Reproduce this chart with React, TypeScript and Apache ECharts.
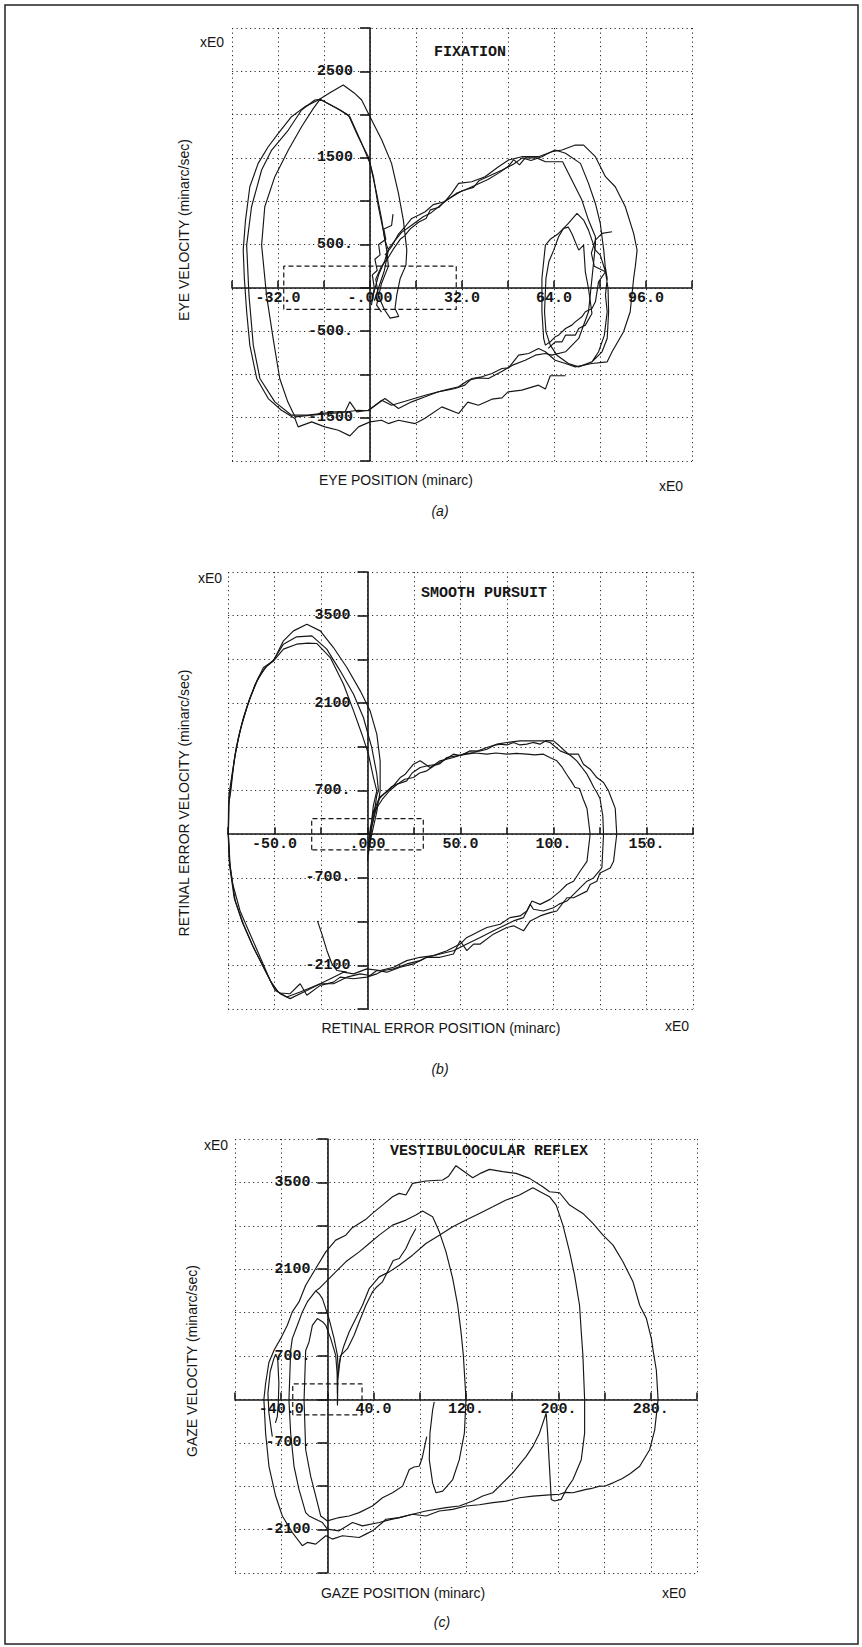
import React, { useEffect, useRef } from "react";
import * as echarts from "echarts";

// ---------------- axis ranges & tick labels ----------------
const fixXRange = [-48, 112, 16];
const fixYRange = [-2000, 3000, 500];
const fixXTicks = [-32, 0, 32, 64, 96];
const fixXTexts = ["-32.0", "-.000", "32.0", "64.0", "96.0"];
const fixYTicks = [2500, 1500, 500, -500, -1500];
const fixYTexts = ["2500", "1500", "500.", "-500.", "-1500"];

const purXRange = [-75, 175, 25];
const purYRange = [-2800, 4200, 700];
const purXTicks = [-50, 0, 50, 100, 150];
const purXTexts = ["-50.0", ".000", "50.0", "100.", "150."];
const purYTicks = [3500, 2100, 700, -700, -2100];
const purYTexts = ["3500", "2100", "700.", "-700.", "-2100"];

const vorXRange = [-80, 320, 40];
const vorYRange = [-2800, 4200, 700];
const vorXTicks = [-40, 40, 120, 200, 280];
const vorXTexts = ["-40.0", "40.0", "120.", "200.", "280."];
const vorYTicks = [3500, 2100, 700, -700, -2100];
const vorYTexts = ["3500", "2100", "700.", "-700.", "-2100"];

// dashed fixation window (position, velocity)
const boxX = [-30, 30];
const boxY = [-250, 250];

// ---------------- (a) FIXATION traces ----------------
const fixTraceA = [
  [5.2,377],[7.5,474],[9.9,620],[12.2,705],[14.5,801],[17,840],[19.2,878],[22,960],[26,994],[28.4,1090],[30.8,1206],[35.4,1225],[40,1283],[44.7,1398],[48.2,1475],[52.8,1514],[58.6,1514],[63.3,1572],[66.8,1591],[71.4,1648],[74.3,1648],[78.4,1514],[81.9,1283],[85.3,1167],[88.8,936],[91.7,628],[92.9,435],[92.3,250],[91.7,108],[90.5,-277],[88.2,-508],[84.2,-739],[82.5,-855],[77.2,-874],[71.4,-913],[68,-874],[64.4,-836],[61,-739],[58.6,-701],[55.2,-759],[51.7,-778],[48.2,-924],[45.9,-932],[42.4,-990],[38.9,-1028],[35.4,-1047],[33,-1124],[29.6,-1163],[26.7,-1182],[23.8,-1201],[19.2,-1259],[14.5,-1317],[9.9,-1394],[5.2,-1279],[-0.6,-1414],[-4.6,-1433],[-7,-1317],[-8.7,-1433],[-12.2,-1433],[-21.5,-1471],[-27.3,-1471],[-33.1,-1317],[-38.3,-1047],[-40.6,-662],[-42.1,-85],[-42.9,493],[-41.2,936],[-37.7,1360],[-34.2,1591],[-28.4,1822],[-23.8,2053],[-19.2,2169],[-17.4,2176],[-12.2,2084],[-7.5,1995],[-4.1,1745],[-0.6,1514],[1.2,1283],[2.9,936],[4.6,666],[5.8,435],[6.4,250],[4,50],[2.3,-200],[4,-280]
];
const fixTraceB = [
  [1,-100],[3,150],[5,300],[6.4,450],[9,560],[11,640],[13.5,700],[16,760],[18.5,820],[21,860],[24,940],[27,1020],[30,1090],[33,1130],[37,1190],[41,1250],[45,1330],[48,1400],[50,1480],[52,1420],[54,1500],[58,1500],[61,1456],[63.9,1456],[67,1456],[70.2,1244],[73.7,1013],[76,782],[78.4,589],[78.4,493],[77.2,108],[76,-277],[72.6,-585],[68,-739],[63.3,-778],[61,-758],[57.5,-778],[54,-836],[49.6,-893],[46,-963],[41.2,-1047],[37.7,-1040],[34.2,-1067],[30.8,-1143],[26.1,-1182],[19.2,-1240],[12.2,-1310],[7.5,-1356],[4.1,-1298],[-0.6,-1420],[-4.1,-1414],[-10,-1440],[-16,-1460],[-20.3,-1470],[-26.1,-1490],[-28.6,-1317],[-31.4,-1047],[-33.7,-585],[-36,-85],[-37.7,493],[-36.6,936],[-33.1,1283],[-28.4,1591],[-23.8,1860],[-19.7,2072],[-17.4,2176],[-10.4,2053],[-7,1976],[-2.9,1668],[0,1437],[2.3,1090],[4.1,782],[5.2,551],[6.4,435],[5,200],[3,0],[1.5,-150]
];
const fixTraceC = [
  [68,-1016],[62.7,-1016],[61,-1170],[58.6,-1124],[52.8,-1182],[48,-1201],[45.9,-1271],[42.4,-1286],[37.7,-1356],[34,-1320],[30.8,-1452],[25,-1375],[19,-1510],[15.7,-1568],[9.9,-1529],[6.4,-1568],[4,-1529],[0,-1548],[-4,-1606],[-7,-1710],[-11,-1645],[-15.7,-1606],[-20.3,-1548],[-25,-1606],[-26.1,-1510],[-30.8,-1414],[-35.4,-1279],[-39.4,-1047],[-41.8,-662],[-42.9,-277],[-43.7,108],[-44.1,435],[-43.3,782],[-41.8,1167],[-38.9,1437],[-35.4,1629],[-31.9,1783],[-27.3,1976],[-22.6,2092],[-18,2169],[-13.5,2260],[-9.3,2342],[-5.5,2250],[-2.9,2169],[0,1976],[4.1,1706],[7.5,1437],[9.9,1090],[11.6,782],[12.8,435],[12.5,262],[10.5,108],[9.3,-85],[8.7,-239],[10,-330],[7,-350],[5,-250],[3,-100],[2,100],[4,250],[6,330],[8,440],[10.5,560],[12,600],[14,680],[17,760],[19.5,800],[21,900],[24,930],[26,1000],[29,1060],[32,1120],[36,1160],[38,1240],[42,1300],[46,1360],[50,1430],[53,1500],[56,1470],[59.8,1514],[62,1553],[64.4,1591],[68,1553],[73.2,1437],[76,1206],[78.4,974],[80.1,743],[81.3,435],[81.8,250],[82.5,108],[81.9,-85],[82.5,-277],[81.5,-550],[79.5,-739],[77.2,-855],[72.6,-913],[69,-874],[65,-778],[62.7,-662],[61.2,-508],[60.7,-277],[61.2,108],[62.2,300],[63.9,435],[65.6,589],[67.3,686],[69,743],[72,859],[74.3,782],[76,666],[78.4,435],[80.1,377],[81.9,185],[82.8,-8],[83,-277],[82.5,-585],[80.7,-739],[77.2,-855],[72.6,-913],[69,-874],[65.5,-790]
];
const fixLoopSmall = [
  [84.2,647],[80.7,628],[78.4,551],[77,400],[78,250],[81.9,185],[79.5,69],[78.4,-162],[77.2,-239],[74.9,-277],[73.7,-335],[71.4,-393],[70.2,-431],[68,-470],[65.6,-547],[64.4,-566],[62.7,-624],[61,-662],[60.4,-585],[59.8,-277],[59.8,108],[61,493],[62.7,560],[65.6,628],[67.3,686],[69,700],[70.2,628],[72.6,435],[74.3,493],[74.9,185],[76,-8],[77.2,-297],[74.9,-431],[72.6,-470],[71.4,-547],[68,-547],[66.8,-624],[64.4,-624],[62,-700]
];
const fixJitter = [
  [0.5,-200],[1.5,0],[0.8,150],[2.5,200],[1.7,330],[3.5,380],[3,500],[5.5,560],[4.8,680],[7.5,720],[8,850]
];

// ---------------- (b) SMOOTH PURSUIT traces ----------------
const purOuter = [
  [0.5,-200],[2,100],[4,350],[6.8,600],[10.4,680],[14,780],[17.6,908],[20.3,961],[24.7,1121],[28.3,1175],[33.7,1068],[39,1175],[46.2,1228],[51.6,1282],[57,1308],[64.2,1388],[69.5,1442],[74.9,1469],[82,1495],[89.2,1495],[94.6,1495],[98.2,1469],[103.6,1335],[108,1282],[113.4,1282],[116.1,1121],[119.7,1041],[123.3,908],[126.9,828],[129.6,694],[130.5,625],[133.2,413],[134,0],[132.3,-435],[130.5,-541],[125,-620],[123.3,-753],[119.7,-806],[118,-912],[110.8,-1018],[107.2,-1018],[101.8,-1230],[98.2,-1256],[92.8,-1309],[87.5,-1389],[83.9,-1548],[78.5,-1468],[74.9,-1495],[67.7,-1601],[60.6,-1760],[57,-1760],[53.4,-1866],[49.8,-1707],[46.2,-1919],[39,-1972],[31.9,-1972],[28.3,-2025],[21.1,-2078],[14,-2157],[8.6,-2184],[5,-2237],[-0.4,-2290],[-7.5,-2316],[-14.7,-2290],[-18.3,-2369],[-25.4,-2422],[-32.6,-2581],[-36.2,-2396],[-41.6,-2555],[-47,-2543],[-49.6,-2502],[-55,-2184],[-61.3,-1813],[-66.7,-1442],[-71.1,-1071],[-73.8,-541],[-74.8,0],[-74.5,500],[-73.5,694],[-71.7,1175],[-69.4,1549],[-66.7,1869],[-63.1,2189],[-59.5,2456],[-55.9,2670],[-50.5,2777],[-45.2,3097],[-39.8,3257],[-32.6,3364],[-25.4,3257],[-18.3,2990],[-11.1,2670],[-3.9,2296],[1.4,1976],[5,1602],[6.8,1175],[6.8,694],[5,360],[2.3,0],[0.5,-276]
];
const purMiddle = [
  [1.1,-150],[2.5,150],[4.5,400],[8,560],[12,700],[16,800],[21.1,854],[24,980],[28.3,1068],[33,1100],[37.3,1121],[42,1200],[46.2,1282],[50,1260],[55.2,1335],[60,1330],[64.2,1361],[68,1420],[71.3,1442],[75,1430],[78.5,1469],[82,1430],[85.7,1442],[89,1470],[92.8,1442],[96,1500],[100,1495],[103,1420],[107,1308],[110,1240],[112.5,1175],[115,1080],[118,961],[120,850],[121.7,748],[123.5,660],[125,572],[126.5,300],[126.9,0],[126,-541],[121.5,-700],[118,-753],[114.3,-859],[110.8,-965],[107.2,-1071],[103,-1120],[100,-1177],[94.6,-1230],[89.2,-1203],[87.5,-1124],[83.9,-1336],[78.5,-1389],[74.9,-1442],[67.7,-1548],[60.6,-1654],[53.4,-1760],[46.2,-1866],[39,-1919],[31.9,-1972],[24.7,-2078],[17.6,-2131],[10.4,-2210],[5,-2184],[1.4,-2263],[-3.9,-2237],[-11.1,-2290],[-18.3,-2396],[-25.4,-2396],[-32.6,-2502],[-41.6,-2634],[-47,-2555],[-50.5,-2449],[-55.9,-2131],[-62.2,-1760],[-67.6,-1389],[-71.7,-1018],[-74.2,-488],[-74.8,0],[-74.5,625],[-72.8,961],[-70.6,1388],[-67.6,1762],[-63.4,2163],[-58.6,2510],[-54.1,2697],[-50.5,2790],[-45.2,3044],[-38.1,3161],[-29.9,3177],[-21.9,2964],[-14.7,2617],[-7.5,2243],[-2.2,1869],[2.3,1388],[5,961],[5.9,694],[5,625],[3.2,254],[1.1,0],[0,-435]
];
const purInner = [
  [0.5,-223],[1.5,100],[3.5,380],[6,560],[9,650],[13,760],[17,820],[20,880],[24.7,908],[28,980],[31.9,1015],[36,1100],[39,1130],[42.6,1228],[47,1250],[53.4,1282],[58,1300],[64.2,1282],[69,1300],[74.9,1282],[80,1295],[85.7,1282],[90,1270],[94.6,1282],[98,1230],[101.8,1175],[104.5,1080],[107,961],[109.5,850],[111.6,748],[114,731],[116,560],[118,413],[119.7,0],[118,-435],[114.3,-594],[110.8,-753],[107.2,-806],[103.6,-912],[98.2,-1044],[92.8,-1124],[88.4,-1071],[85.7,-1230],[82,-1309],[76.6,-1336],[71.3,-1442],[64.2,-1495],[60.6,-1548],[57,-1601],[53.4,-1654],[49.8,-1760],[42.7,-1866],[35.5,-1945],[28.3,-1972],[21.1,-2025],[14,-2131],[6.8,-2184],[-0.4,-2157],[-7.5,-2237],[-12.9,-2210],[-18.3,-2290],[-25.4,-2396],[-36.2,-2528],[-43.4,-2608],[-47.9,-2528],[-52.3,-2343],[-57.7,-1972],[-63.1,-1601],[-68.5,-1230],[-72.4,-806],[-74.4,-382],[-74.9,0],[-74.7,466],[-72.9,908],[-71.1,1282],[-68.5,1655],[-64.9,2029],[-60.4,2403],[-55,2670],[-50.5,2777],[-45.2,2964],[-38.1,3044],[-32,3060],[-27.2,3054],[-20,2830],[-12.9,2403],[-7.5,1976],[-3,1602],[0.5,1282],[3.2,908],[5,694],[3.2,466],[1.4,0],[0.5,-330]
];
const purStray = [
  [-26.9,-1389],[-24.5,-1601],[-21.8,-1866],[-19.1,-2078],[-16.4,-2184],[-11.1,-2210]
];

// ---------------- (c) VESTIBULOOCULAR REFLEX traces ----------------
const vorOuter = [
  [-21.7,-2360],[-30.4,-2147],[-39,-1880],[-44.8,-1559],[-50.6,-1079],[-53.5,-545],[-55,0],[-53.5,256],[-50.6,600],[-46,800],[-40.5,980],[-34.7,1195],[-30.4,1411],[-24.6,1572],[-18.8,1842],[-10.1,2111],[-1.4,2380],[7.2,2569],[15.9,2649],[21,2760],[27.5,2838],[33,2900],[39,3000],[47.7,3134],[56.4,3269],[62.2,3323],[68,3296],[73.7,3484],[85.3,3522],[99.8,3538],[105,3600],[111.3,3770],[118,3680],[125.8,3576],[133,3650],[140.3,3710],[151.8,3673],[163.4,3646],[175,3565],[186.5,3430],[192.3,3349],[201,3333],[209.7,3134],[221.2,3000],[229.9,2838],[238.6,2649],[247.3,2488],[255.9,2219],[264.6,1896],[270.4,1519],[276.2,1303],[280.5,980],[282,790],[284.8,470],[286.3,0],[283.4,-491],[279,-812],[270.4,-1079],[262,-1200],[255,-1280],[247.3,-1346],[240,-1400],[235.7,-1399],[228,-1440],[224.1,-1452],[218,-1480],[212.6,-1506],[206,-1500],[201,-1530],[189.4,-1545],[177.9,-1559],[166.3,-1586],[154.7,-1640],[143.2,-1666],[131.6,-1700],[120,-1719],[108.5,-1773],[96.9,-1800],[85.3,-1880],[73.7,-1853],[62.2,-1906],[50.6,-1933],[47.7,-1986],[39,-2120],[33.3,-2173],[27.5,-2227],[13,-2200],[4.3,-2253],[-1.4,-2200],[-10.1,-2334],[-17.4,-2307],[-21.7,-2360]
];
const vorMain = [
  [8.7,-100],[9,300],[11,650],[14,850],[18.8,1088],[24.6,1303],[30.4,1519],[36.2,1788],[44.8,1976],[53.5,2057],[62.2,2165],[73.7,2326],[85.3,2515],[96.9,2649],[108.5,2784],[120,2892],[131.6,3000],[143.2,3107],[154.7,3215],[166.3,3296],[177.9,3414],[185,3340],[192.3,3269],[198.1,3134],[203.9,2811],[209.7,2380],[214,2003],[218.3,1519],[219.8,1088],[221.2,711],[222.7,0],[222.7,-545],[219.8,-972],[212.6,-1292],[206.8,-1452],[202.4,-1613],[196.6,-1639],[193.8,-1613],[192,-1000],[190.5,-500],[189.4,-224],[183.6,-545],[177.9,-758],[172.1,-918],[166.3,-1052],[160.5,-1185],[151.8,-1346],[143.2,-1506],[134.5,-1559],[125.8,-1639],[114.2,-1719],[102.7,-1746],[85.3,-1800],[73.7,-1853],[62.2,-1906],[53.5,-1944],[44.8,-1986],[30.4,-2040],[21.7,-1986],[10.1,-2120],[0,-2093],[-4.3,-1986],[-15.9,-1880],[-18.8,-1826],[-24.6,-1452],[-28.9,-1079],[-31.8,-545],[-33.3,-11],[-31.8,790],[-30.4,980],[-26,1195],[-21.7,1411],[-17.4,1572],[-10.1,1750],[-7.2,1788],[-1.4,1896],[7.2,2057],[15.9,2219],[27.5,2380],[36.2,2515],[44.8,2649],[56.4,2811],[68,2892],[76.6,2973],[82.4,3037],[91.1,2946],[96.9,2703],[102.7,2380],[108.5,1949],[112.8,1519],[115.7,1088],[117.7,711],[120,0],[118.6,-545],[114.2,-972],[108.5,-1292],[99.8,-1479],[94,-1506],[91.1,-1346],[88.2,-972],[88.8,-545],[91.1,-171],[92.5,-40]
];
const vorFreeEnd = [
  [76.6,2757],[72,2600],[68,2434],[62.2,2272],[57,2240],[53.5,2111],[47.7,1896],[42,1800],[39,1734],[33.3,1519],[27.5,1249],[23.1,1034],[17.4,818],[11.6,711],[8.7,416],[8.7,-64]
];
const vorLeftSmall = [
  [-47.7,-600],[-50.6,-224],[-51.5,100],[-49.5,450],[-46.5,650],[-44.8,730],[-43,650],[-42,256],[-42.6,-100],[-43.4,-278],[-45,-380]
];
const vorInner = [
  [86,-600],[82,-950],[79.5,-1079],[75,-1090],[70.9,-1132],[65.1,-1399],[56.4,-1506],[47.7,-1586],[39,-1719],[27.5,-1826],[18.8,-1880],[10.1,-1906],[0,-1960],[-5.8,-1880],[-10.1,-1559],[-14.5,-1239],[-18.8,-812],[-20.2,-11],[-18.8,790],[-15.9,926],[-13,1195],[-8.7,1303],[-4,1250],[-1.4,1195],[2.9,980],[7.2,711],[8.5,400],[8.7,100]
];
const vorPeakBranch = [
  [-10.1,1750],[-7,1700],[-4.3,1626],[1.4,1303],[5.8,980],[8.7,711],[9.5,400]
];

// ---------------- styling ----------------
const INK = "#161616";
const MONO = '"Liberation Mono", "DejaVu Sans Mono", monospace';
const SANS = '"Liberation Sans", Arial, sans-serif';

function fmt(ticks: number[], texts: string[]) {
  return (v: number) => {
    for (let i = 0; i < ticks.length; i++) {
      if (Math.abs(ticks[i] - v) < 1e-6) return texts[i];
    }
    return "";
  };
}

function rectPath(xs: number[], ys: number[]) {
  return [
    [xs[0], ys[0]],
    [xs[0], ys[1]],
    [xs[1], ys[1]],
    [xs[1], ys[0]],
    [xs[0], ys[0]],
  ];
}

const panels = [
  {
    grid: { left: 232, top: 28, width: 460, height: 433 },
    xr: fixXRange, yr: fixYRange,
    xTicks: fixXTicks, xTexts: fixXTexts, yTicks: fixYTicks, yTexts: fixYTexts,
    traces: [fixTraceA, fixTraceB, fixTraceC, fixLoopSmall, fixJitter],
  },
  {
    grid: { left: 228, top: 572, width: 465, height: 437 },
    xr: purXRange, yr: purYRange,
    xTicks: purXTicks, xTexts: purXTexts, yTicks: purYTicks, yTexts: purYTexts,
    traces: [purOuter, purMiddle, purInner, purStray],
  },
  {
    grid: { left: 235, top: 1139, width: 462, height: 434 },
    xr: vorXRange, yr: vorYRange,
    xTicks: vorXTicks, xTexts: vorXTexts, yTicks: vorYTicks, yTexts: vorYTexts,
    traces: [vorOuter, vorMain, vorFreeEnd, vorLeftSmall, vorInner, vorPeakBranch],
  },
];

function txt(text: string, x: number, y: number, font: string, align = "left", rotation = 0) {
  return {
    type: "text",
    x,
    y,
    rotation,
    silent: true,
    z: 10,
    style: {
      text,
      font,
      fill: INK,
      textAlign: align,
      textVerticalAlign: "middle",
      align,
      verticalAlign: "middle",
    },
  };
}

export default function App() {
  const ref = useRef<HTMLDivElement>(null);

  useEffect(() => {
    if (!ref.current) return;
    const chart = echarts.init(ref.current, undefined, { renderer: "svg" });
    const split = { show: true, lineStyle: { color: "#2a2a2a", width: 1, type: [1.2, 3.3] } };

    const series: any[] = [];
    panels.forEach((p, i) => {
      p.traces.forEach((t) =>
        series.push({
          type: "line",
          xAxisIndex: i,
          yAxisIndex: i,
          data: t,
          showSymbol: false,
          symbol: "none",
          silent: true,
          z: 3,
          lineStyle: { color: INK, width: 1.15 },
        })
      );
      series.push({
        type: "line",
        xAxisIndex: i,
        yAxisIndex: i,
        data: rectPath(boxX, boxY),
        showSymbol: false,
        symbol: "none",
        silent: true,
        z: 3,
        lineStyle: { color: INK, width: 1.2, type: [5, 3] },
      });
    });

    const sans14 = `14px ${SANS}`;
    const title = `bold 15px ${MONO}`;
    const graphic = [
      {
        type: "rect",
        silent: true,
        z: 0,
        shape: { x: 5, y: 5, width: 853, height: 1639 },
        style: { fill: "none", stroke: "#222", lineWidth: 1.5 },
      },
      // (a)
      txt("xE0", 200, 42, sans14),
      txt("FIXATION", 470, 52, title, "center"),
      txt("EYE VELOCITY (minarc/sec)", 184, 230, sans14, "center", Math.PI / 2),
      txt("EYE POSITION (minarc)", 396, 480, sans14, "center"),
      txt("xE0", 659, 486, sans14),
      txt("(a)", 440, 511, `italic 14px ${SANS}`, "center"),
      // (b)
      txt("xE0", 198, 578, sans14),
      txt("SMOOTH PURSUIT", 484, 593, title, "center"),
      txt("RETINAL ERROR VELOCITY (minarc/sec)", 184, 803, sans14, "center", Math.PI / 2),
      txt("RETINAL ERROR POSITION (minarc)", 441, 1028, sans14, "center"),
      txt("xE0", 665, 1026, sans14),
      txt("(b)", 440, 1069, `italic 14px ${SANS}`, "center"),
      // (c)
      txt("xE0", 204, 1145, sans14),
      txt("VESTIBULOOCULAR REFLEX", 489, 1151, title, "center"),
      txt("GAZE VELOCITY (minarc/sec)", 192, 1361, sans14, "center", Math.PI / 2),
      txt("GAZE POSITION (minarc)", 403, 1593, sans14, "center"),
      txt("xE0", 662, 1593, sans14),
      txt("(c)", 442, 1622, `italic 14px ${SANS}`, "center"),
    ];

    chart.setOption({
      animation: false,
      backgroundColor: "#ffffff",
      grid: panels.map((p) => ({ ...p.grid, containLabel: false, show: false })),
      xAxis: panels.map((p, i) => ({
        gridIndex: i,
        type: "value",
        position: "bottom",
        min: p.xr[0],
        max: p.xr[1],
        interval: p.xr[2],
        // place the axis (line, ticks, labels) on the zero velocity line
        offset: -(p.grid.height * (0 - p.yr[0])) / (p.yr[1] - p.yr[0]),
        axisLine: { show: true, onZero: false, lineStyle: { color: INK, width: 1.6 } },
        axisTick: { show: true, inside: true, length: 7, lineStyle: { color: INK, width: 1.6 } },
        axisLabel: {
          show: true,
          formatter: fmt(p.xTicks, p.xTexts),
          fontFamily: MONO,
          fontWeight: "bold",
          fontSize: 15,
          color: INK,
          margin: 3,
        },
        splitLine: split,
      })),
      yAxis: panels.map((p, i) => ({
        gridIndex: i,
        type: "value",
        position: "left",
        min: p.yr[0],
        max: p.yr[1],
        interval: p.yr[2],
        // place the axis on the zero position line
        offset: -(p.grid.width * (0 - p.xr[0])) / (p.xr[1] - p.xr[0]),
        axisLine: { show: true, onZero: false, lineStyle: { color: INK, width: 1.6 } },
        axisTick: { show: true, inside: false, length: 10, lineStyle: { color: INK, width: 1.6 } },
        axisLabel: {
          show: true,
          formatter: fmt(p.yTicks, p.yTexts),
          fontFamily: MONO,
          fontWeight: "bold",
          fontSize: 15,
          color: INK,
          margin: 17,
        },
        splitLine: split,
      })),
      series,
      graphic,
    });

    return () => chart.dispose();
  }, []);

  return (
    <div
      ref={ref}
      style={{ position: "absolute", left: 0, top: 0, width: 862, height: 1647, background: "#fff" }}
    />
  );
}
